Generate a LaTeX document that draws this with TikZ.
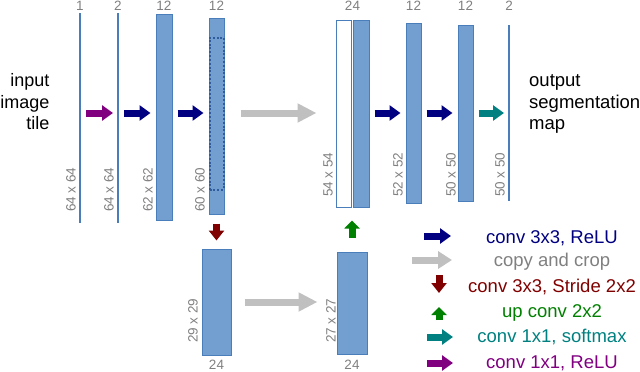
\documentclass[tikz,border=0pt]{standalone}
\usepackage{fontspec}
\setmainfont{Liberation Sans}
\usetikzlibrary{arrows.meta}

\definecolor{mapfill}{HTML}{729FCF}
\definecolor{mapline}{HTML}{4A7EBB}
\definecolor{cropline}{HTML}{2E5C9E}
\definecolor{dimgray}{HTML}{808080}
\definecolor{convcol}{HTML}{000080}
\definecolor{copycol}{HTML}{C0C0C0}
\definecolor{stridecol}{HTML}{800000}
\definecolor{upcol}{HTML}{008000}
\definecolor{softcol}{HTML}{008080}
\definecolor{onecol}{HTML}{800080}

\tikzset{
  fmap/.style={draw=mapline, fill=mapfill, line width=1pt, inner sep=0pt},
  thinmap/.style={fill=mapline, inner sep=0pt, minimum width=2.5pt},
  cropbox/.style={draw=cropline, line width=2pt, dash pattern=on 2pt off 1.8pt, inner sep=0pt},
  dimlabel/.style={text=dimgray, font=\fontsize{13.5}{15}\selectfont, inner sep=0pt},
  sizelabel/.style={dimlabel, rotate=90, anchor=west},
  bigtext/.style={font=\fontsize{18.5}{21.5}\selectfont, inner sep=0pt},
  legtext/.style={bigtext, anchor=base},
  block/.style={line width=7pt, -{Triangle[length=11pt,width=15pt]}},
  relu3/.style={block, convcol},
  copycrop/.style={line width=7pt, copycol, -{Triangle[length=19pt,width=18pt]}},
  stride/.style={line width=7pt, stridecol, -{Triangle[length=10pt,width=15pt]}},
  upconv/.style={line width=7pt, upcol, -{Triangle[length=8pt,width=15pt]}},
  softmax/.style={block, softcol},
  relu1/.style={block, onecol},
  gap/.style={shorten <=5pt, shorten >=5pt}
}

\begin{document}
\begin{tikzpicture}[x=1pt,y=-1pt]
  \useasboundingbox (0,0) rectangle (640,372);

  % contracting path
  \node[thinmap, minimum height=210] (in1) at (80,118) {};
  \node[thinmap, minimum height=210] (in2) at (118,118) {};
  \node[fmap, minimum width=16, minimum height=206] (c1) at (164,117) {};
  \node[fmap, minimum width=15, minimum height=196] (c2) at (216.5,116) {};
  \node[cropbox, minimum width=14, minimum height=152] (crop) at (216.5,113.5) {};
  \node[fmap, minimum width=29, minimum height=106] (dn) at (216.5,302) {};

  % expanding path
  \node[fmap, minimum width=30, minimum height=102] (up) at (352,303) {};
  \node[fmap, fill=white, minimum width=15, minimum height=187] (cat) at (343.5,113.5) {};
  \node[fmap, minimum width=16, minimum height=187] (upc) at (361,113.5) {};
  \node[fmap, minimum width=15, minimum height=180] (c3) at (413.5,113) {};
  \node[fmap, minimum width=15, minimum height=176] (c4) at (465.5,113) {};
  \node[thinmap, minimum height=176] (out) at (509,113) {};

  % channel counts
  \node[dimlabel, anchor=base] at (in1 |- 0,10) {1};
  \node[dimlabel, anchor=base] at (in2 |- 0,10) {2};
  \node[dimlabel, anchor=base] at (c1 |- 0,10) {12};
  \node[dimlabel, anchor=base] at (c2 |- 0,10) {12};
  \node[dimlabel, anchor=base] at (352.5,10) {24};
  \node[dimlabel, anchor=base] at (c3 |- 0,10) {12};
  \node[dimlabel, anchor=base] at (c4 |- 0,10) {12};
  \node[dimlabel, anchor=base] at (out |- 0,10) {2};
  \node[dimlabel, anchor=base] at (dn |- 0,369) {24};
  \node[dimlabel, anchor=base] at (up |- 0,369) {24};

  % map sizes
  \node[sizelabel] at (71,212) {64 x 64};
  \node[sizelabel] at (109,212) {64 x 64};
  \node[sizelabel] at (148,212) {62 x 62};
  \node[sizelabel] at (200,212) {60 x 60};
  \node[sizelabel] at (193,343) {29 x 29};
  \node[sizelabel] at (331,343) {27 x 27};
  \node[sizelabel] at (328,197) {54 x 54};
  \node[sizelabel] at (398,197) {52 x 52};
  \node[sizelabel] at (451,197) {50 x 50};
  \node[sizelabel] at (500,197) {50 x 50};

  % input and output
  \node[bigtext, font=\fontsize{18}{21.5}\selectfont, align=right, anchor=east] (input) at (49.5,102) {input\\image\\tile};
  \node[bigtext, align=left, anchor=west] (output) at (529,104) {output\\segmentation\\map};

  % operations
  \coordinate (row) at (0,113);
  \draw[relu1, shorten <=6pt, shorten >=5pt] (in1 |- row) -- (in2 |- row);
  \draw[relu3, shorten <=6pt, shorten >=5pt] (in2 |- row) -- (c1.west |- row);
  \draw[relu3, gap] (c1.east |- row) -- (c2.west |- row);
  \draw[copycrop, shorten <=16pt, shorten >=19pt] (c2.east |- row) -- (cat.west |- row);
  \draw[stride, shorten <=9pt, shorten >=8pt] (c2.south) -- (dn.north);
  \draw[copycrop, shorten <=13pt, shorten >=19pt] (dn.east) -- (up.west |- dn.east);
  \draw[upconv, shorten <=14pt, shorten >=13pt] (up.north) -- (up.north |- upc.south);
  \draw[relu3, gap] (upc.east |- row) -- (c3.west |- row);
  \draw[relu3, gap] (c3.east |- row) -- (c4.west |- row);
  \draw[softmax, shorten <=5pt, shorten >=5pt] (c4.east |- row) -- (out |- row);

  % legend
  \draw[relu3] (424,236) -- (451,236);
  \node[legtext, text=convcol] (l1) at (552,243) {conv 3x3, ReLU};
  \draw[copycol, line width=7pt, -{Triangle[length=14pt,width=17pt]}] (412,260) -- (452,260);
  \node[legtext, text=dimgray] (l2) at (552,266) {copy and crop};
  \draw[stride] (439,275) -- (439,293);
  \node[legtext, text=stridecol] (l3) at (552,292) {conv 3x3, Stride 2x2};
  \draw[upconv] (439,320) -- (439,307);
  \node[legtext, text=upcol] (l4) at (552,317) {up conv 2x2};
  \draw[softmax] (427,337) -- (453,337);
  \node[legtext, text=softcol] (l5) at (552,342) {conv 1x1, softmax};
  \draw[relu1] (427,363) -- (453,363);
  \node[legtext, text=onecol] (l6) at (552,368) {conv 1x1, ReLU};
\end{tikzpicture}
\end{document}
